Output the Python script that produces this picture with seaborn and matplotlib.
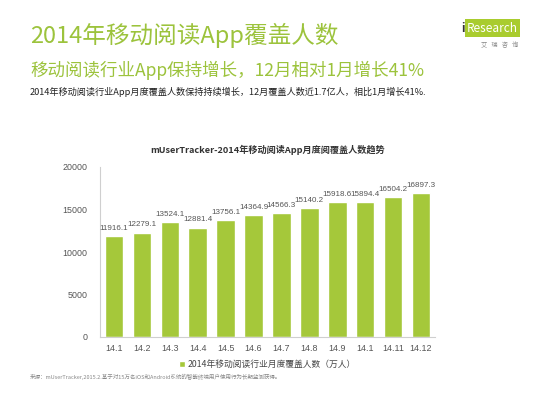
import matplotlib
matplotlib.use("Agg")
import matplotlib.pyplot as plt
import seaborn as sns
import pandas as pd

months = ["14.1", "14.2", "14.3", "14.4", "14.5", "14.6", "14.7", "14.8", "14.9", "14.10", "14.11", "14.12"]
month_labels = ["14.1", "14.2", "14.3", "14.4", "14.5", "14.6", "14.7", "14.8", "14.9", "14.1", "14.11", "14.12"]
users = [11916.1, 12279.1, 13524.1, 12881.4, 13756.1, 14364.9, 14566.3, 15140.2, 15918.6, 15894.4, 16504.2, 16897.3]
y_ticks = [0, 5000, 10000, 15000, 20000]

title1 = "2014年移动阅读App覆盖人数"
title2 = "移动阅读行业App保持增长，12月相对1月增长41%"
summary = "2014年移动阅读行业App月度覆盖人数保持持续增长，12月覆盖人数近1.7亿人，相比1月增长41%."
chart_title = "mUserTracker-2014年移动阅读App月度阅覆盖人数趋势"
series_name = "2014年移动阅读行业月度覆盖人数（万人）"
source = "来源：mUserTracker,2015.2.基于对15万名iOS和Android系统的智能终端用户使用行为长期监测获得。"

sns.set_theme(style="white")
plt.rcParams['font.family'] = ['Noto Sans CJK SC', 'DejaVu Sans']

GREEN = "#a5c83a"
TITLE_GREEN = "#9cc33c"

df = pd.DataFrame({"month": months, "users": users, "series": series_name})

fig = plt.figure(figsize=(5.5, 3.99), dpi=100)
ax = fig.add_axes([100/550, 1-337/399, 335/550, 170/399])

sns.barplot(data=df, x="month", y="users", hue="series", palette=[GREEN],
            width=0.66, ax=ax, saturation=1, legend=True)

ax.set_ylim(0, 20000)
ax.set_xlim(-0.5, len(months) - 0.5)
ax.set_yticks(y_ticks)
ax.set_yticklabels([str(v) for v in y_ticks], fontsize=6.4, color="#555555",
                   family=['Liberation Sans', 'DejaVu Sans'])
ax.set_xticks(range(len(months)))
ax.set_xticklabels(month_labels, fontsize=6.4, color="#555555",
                   family=['Liberation Sans', 'DejaVu Sans'])
ax.tick_params(axis='y', length=0, pad=9)
ax.tick_params(axis='x', length=0, pad=5)
ax.set_xlabel("")
ax.set_ylabel("")
for s in ["top", "right"]:
    ax.spines[s].set_visible(False)
for s in ["left", "bottom"]:
    ax.spines[s].set_color("#cfcfcf")
    ax.spines[s].set_linewidth(0.8)

for cont in ax.containers:
    ax.bar_label(cont, labels=[f"{v:.1f}" for v in users], fontsize=5.8, color="#555555",
                 padding=3, family=['Liberation Sans', 'DejaVu Sans'])

leg = ax.legend(loc="upper center", bbox_to_anchor=(0.5, -0.09), frameon=False,
                fontsize=6.3, handlelength=0.7, handleheight=0.7, handletextpad=0.3)
for t in leg.get_texts():
    t.set_color("#444444")

ax.set_title(chart_title, fontsize=6.6, fontweight="bold", color="#333333", pad=10)

fig.text(30/550, 1-35/399, title1, fontsize=17, color=TITLE_GREEN, va="center", ha="left")
fig.text(30/550, 1-70/399, title2, fontsize=12.6, color=TITLE_GREEN, va="center", ha="left")
fig.text(30/550, 1-92/399, summary, fontsize=6.6, color="#222222", va="center", ha="left")
fig.text(30/550, 1-377/399, source, fontsize=4, color="#888888", va="center", ha="left")

# logo
fig.text(467/550, 1-28/399, "Research", fontsize=8.5, color="white", va="center", ha="left",
         bbox=dict(boxstyle="square,pad=0.2", fc="#a9cc2e", ec="none"))
fig.text(461/550, 1-28/399, "i", fontsize=8.5, color="#333333", va="center", ha="left", fontweight="bold")
fig.text(500/550, 1-45/399, "艾   瑞   咨   询", fontsize=4.5, color="#888888", va="center", ha="center")

fig.savefig("out.png", dpi=100)
